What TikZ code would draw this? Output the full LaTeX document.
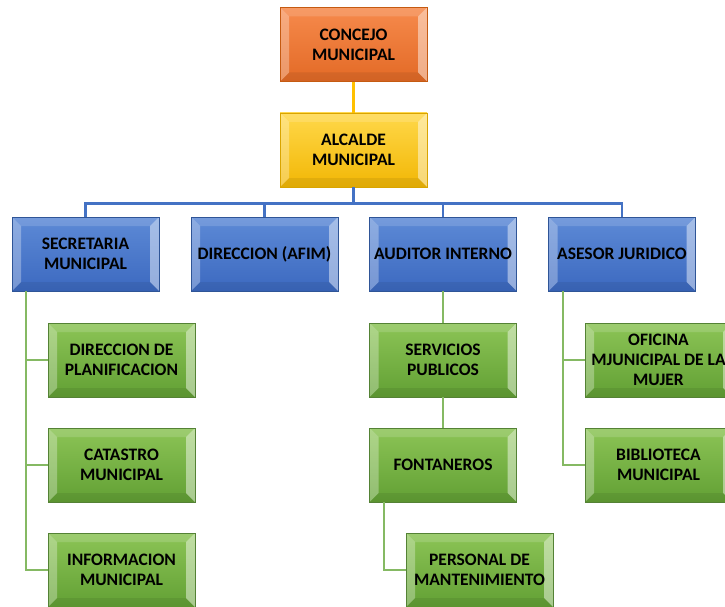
\documentclass[tikz,border=0pt]{standalone}
\usepackage{fontspec}
\setmainfont{Carlito}
\usepackage{tikz}
\usetikzlibrary{arrows.meta}

\definecolor{orgtop}{HTML}{F68A4C}
\definecolor{orgbot}{HTML}{E36A26}
\definecolor{orgline}{HTML}{C55A11}
\definecolor{yeltop}{HTML}{FFD84A}
\definecolor{yelbot}{HTML}{F2B705}
\definecolor{yelline}{HTML}{D9A400}
\definecolor{blutop}{HTML}{5D8AD6}
\definecolor{blubot}{HTML}{3C69C0}
\definecolor{bluline}{HTML}{2F5597}
\definecolor{grntop}{HTML}{8CC456}
\definecolor{grnbot}{HTML}{62A034}
\definecolor{grnline}{HTML}{548235}
\definecolor{ycon}{HTML}{FFC000}
\definecolor{bcon}{HTML}{4472C4}
\definecolor{gcon}{HTML}{70AD47}

\begin{document}
\begin{tikzpicture}[x=1pt, y=-1pt, thick,
    box/.style = {rectangle, minimum width=147pt, minimum height=74pt, inner sep=0pt,
        align=center, font=\bfseries\fontsize{17.5}{20}\selectfont,
        path picture={
            \fill[white, opacity=0.30] (path picture bounding box.south west) -- (path picture bounding box.north west)
                -- ++(9pt,-9pt) -- ([shift={(9pt,9pt)}]path picture bounding box.south west) -- cycle;
            \fill[white, opacity=0.45] (path picture bounding box.south east) -- (path picture bounding box.north east)
                -- ++(-9pt,-9pt) -- ([shift={(-9pt,9pt)}]path picture bounding box.south east) -- cycle;
            \fill[white, opacity=0.15] (path picture bounding box.north west) -- (path picture bounding box.north east)
                -- ++(-9pt,-9pt) -- ([shift={(9pt,-9pt)}]path picture bounding box.north west) -- cycle;
            \fill[black, opacity=0.07] (path picture bounding box.south west) -- (path picture bounding box.south east)
                -- ++(-9pt,9pt) -- ([shift={(9pt,9pt)}]path picture bounding box.south west) -- cycle;
        }},
    orange/.style = {box, draw=orgline, top color=orgtop, bottom color=orgbot},
    yellow/.style = {box, draw=yelline, top color=yeltop, bottom color=yelbot},
    blue/.style = {box, draw=bluline, top color=blutop, bottom color=blubot},
    green/.style = {box, draw=grnline, top color=grntop, bottom color=grnbot},
    yline/.style = {draw=ycon, line width=2.2pt},
    bline/.style = {draw=bcon, line width=2.2pt},
    gline/.style = {draw=gcon!85!white, line width=2.2pt}]
    \clip (0,0) rectangle (725,607);
    \useasboundingbox (0,0) rectangle (725,607);

    % Nodes
    \node[orange] (con) at (353.5, 44.5) {CONCEJO\\MUNICIPAL};
    \node[yellow] (alc) at (353.5, 150) {ALCALDE\\MUNICIPAL};

    \node[blue] (sec) at (85.5, 254) {SECRETARIA\\MUNICIPAL};
    \node[blue] (afim) at (264.5, 254) {DIRECCION (AFIM)};
    \node[blue] (aud) at (443, 254) {AUDITOR INTERNO};
    \node[blue] (ase) at (622, 254) {ASESOR JURIDICO};

    \node[green] (pla) at (121.5, 360) {DIRECCION DE\\PLANIFICACION};
    \node[green] (cat) at (121.5, 465) {CATASTRO\\MUNICIPAL};
    \node[green] (inf) at (121.5, 570) {INFORMACION\\MUNICIPAL};

    \node[green] (ser) at (443, 360) {SERVICIOS\\PUBLICOS};
    \node[green] (fon) at (443, 465) {FONTANEROS};
    \node[green] (per) at (479.5, 570) {PERSONAL DE\\MANTENIMIENTO};

    \node[green] (ofi) at (658.5, 360) {OFICINA\\MJUNICIPAL DE LA\\MUJER};
    \node[green] (bib) at (658.5, 465) {BIBLIOTECA\\MUNICIPAL};

    % Edges
    \draw[yline] (con) -- (alc);
    \draw[bline] (alc.south) -- ++(0,16) coordinate (bus);
    \foreach \n in {sec, afim, aud, ase}
        \draw[bline] (bus) -| (\n.north);

    \foreach \n in {pla, cat, inf}
        \draw[gline] ([xshift=14pt]sec.south west) |- (\n.west);

    \draw[gline] (aud) -- (ser);
    \draw[gline] (ser) -- (fon);
    \draw[gline] ([xshift=15pt]fon.south west) |- (per.west);

    \foreach \n in {ofi, bib}
        \draw[gline] ([xshift=15pt]ase.south west) |- (\n.west);
\end{tikzpicture}
\end{document}
